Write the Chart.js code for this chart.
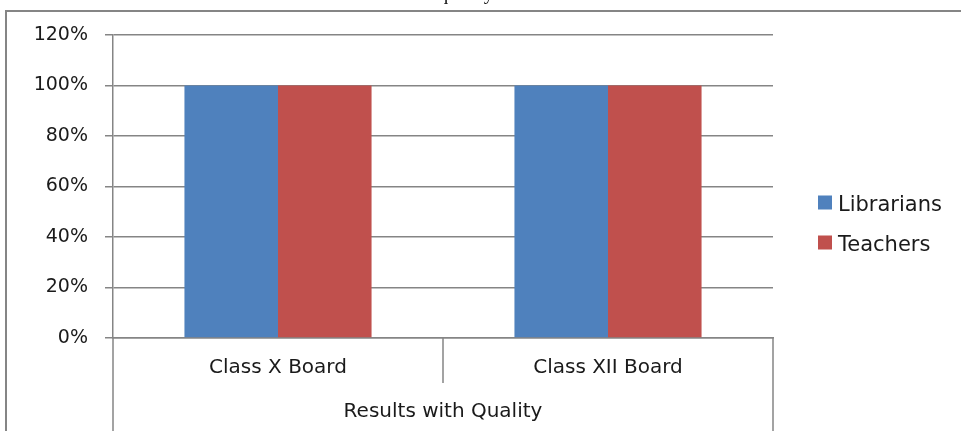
<!DOCTYPE html>
<html>
<head>
<meta charset="utf-8">
<script src="https://cdn.jsdelivr.net/npm/chart.js@4.4.0/dist/chart.umd.min.js"></script>
<style>
  html,body{margin:0;padding:0;background:#fff;overflow:hidden;}
  canvas{display:block;}
</style>
</head>
<body>
<canvas id="chart" width="961" height="431"></canvas>
<script>
// ---------- data ----------
const categories = ['Class X Board', 'Class XII Board'];
const groupLabel = 'Results with Quality';
const seriesNames = ['Librarians', 'Teachers'];
const librarians = [1.0, 1.0];
const teachers = [1.0, 1.0];
const seriesColors = ['#4F81BD', '#C0504D'];
const titleText = 'quality';

const gridColor = '#858585';
const font = 'DejaVu Sans';

// frame, extended axis lines, group label, custom legend
const extras = {
  id: 'extras',
  afterDraw(chart){
    const c = chart.ctx, a = chart.chartArea, H = chart.height;
    const x = chart.scales.x;
    c.save();
    c.strokeStyle = gridColor;
    c.lineWidth = 2;
    // outer frame (cut at right and bottom)
    c.beginPath();
    c.moveTo(6, H + 5); c.lineTo(6, 11); c.lineTo(chart.width + 5, 11);
    c.stroke();
    // outer separators going down to the bottom
    c.lineWidth = 1.5;
    c.beginPath();
    c.moveTo(a.left, a.bottom); c.lineTo(a.left, H);
    c.moveTo(a.right, a.bottom); c.lineTo(a.right, H);
    // middle separator between categories
    const mid = (x.getPixelForValue(0) + x.getPixelForValue(1)) / 2;
    c.moveTo(mid, a.bottom); c.lineTo(mid, a.bottom + 45);
    c.stroke();
    // group label
    c.fillStyle = '#1a1a1a';
    c.font = '20px "' + font + '"';
    c.textAlign = 'center';
    c.textBaseline = 'middle';
    c.fillText(groupLabel, (a.left + a.right) / 2, a.bottom + 74);
    // cut title at the very top
    c.font = '20px "Liberation Serif"';
    c.textBaseline = 'alphabetic';
    c.fillText(titleText, 466, -1);
    // legend
    c.font = '21px "' + font + '"';
    c.textAlign = 'left';
    c.textBaseline = 'middle';
    const lx = a.right + 45;
    const cy = (a.top + a.bottom) / 2 + 38;
    chart.data.datasets.forEach((ds, i) => {
      const y = cy + (i - 0.5) * 40;
      c.fillStyle = ds.backgroundColor;
      c.fillRect(lx, y - 9, 14, 14);
      c.fillStyle = '#1a1a1a';
      c.fillText(ds.label, lx + 20, y + 1);
    });
    c.restore();
  }
};

new Chart(document.getElementById('chart'), {
  type: 'bar',
  data: {
    labels: categories,
    datasets: [
      {label: seriesNames[0], data: librarians, backgroundColor: seriesColors[0]},
      {label: seriesNames[1], data: teachers, backgroundColor: seriesColors[1]}
    ]
  },
  options: {
    responsive: false,
    animation: false,
    layout: {padding: {left: 0, top: 35, right: 188, bottom: 0}},
    datasets: {bar: {categoryPercentage: 0.567, barPercentage: 1.0}},
    plugins: {legend: {display: false}, tooltip: {enabled: false}},
    scales: {
      x: {
        grid: {display: false, drawTicks: false},
        border: {display: true, color: gridColor, width: 1.5},
        ticks: {color: '#1a1a1a', padding: 18, font: {family: font, size: 20}},
        afterFit(s){ s.height = 93; }
      },
      y: {
        min: 0, max: 1.2,
        grid: {color: gridColor, lineWidth: 1.5, tickLength: 8},
        border: {display: true, color: gridColor, width: 1.5},
        ticks: {
          stepSize: 0.2, padding: 17, color: '#1a1a1a',
          font: {family: font, size: 19},
          callback: v => Math.round(v * 100) + '%'
        },
        afterFit(s){ s.width = 113; }
      }
    }
  },
  plugins: [extras]
});
</script>
</body>
</html>
